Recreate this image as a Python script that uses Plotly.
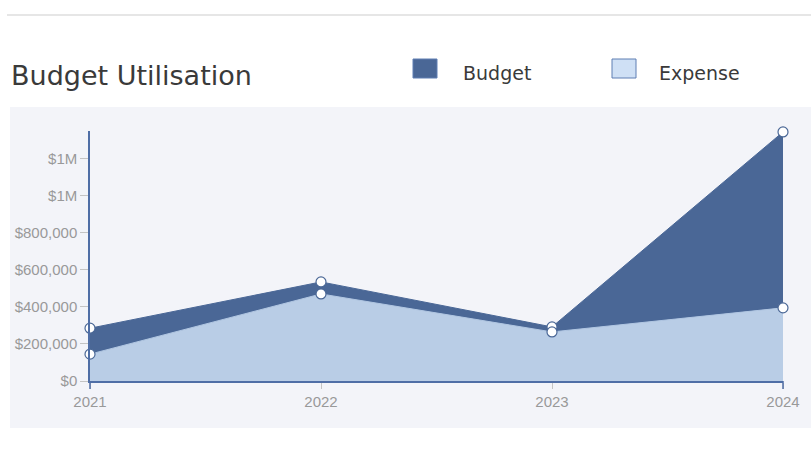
import plotly.graph_objects as go

years = [2021, 2022, 2023, 2024]
budget = [285000, 535000, 292000, 1345000]
expense = [145000, 470000, 265000, 395000]
ytick_vals = [0, 200000, 400000, 600000, 800000, 1000000, 1200000]
ytick_text = ["$0", "$200,000", "$400,000", "$600,000", "$800,000", "$1M", "$1M"]
xtick_text = ["2021", "2022", "2023", "2024"]

W, H = 811, 450
L, R, T, B = 90, 28, 131, 69
PW, PH = W - L - R, H - T - B

def pxp(xp, yp):
    return (xp - L) / PW, (H - B - yp) / PH

dark = "#4a6796"
light = "#b9cde6"
axis_col = "#4f6ea6"

fig = go.Figure()
fig.add_trace(go.Scatter(
    x=years, y=expense, mode="lines", fill="tozeroy",
    line=dict(color="#b0c6e2", width=1), fillcolor=light,
    name="Expense", showlegend=False, cliponaxis=False, hoverinfo="skip"))
fig.add_trace(go.Scatter(
    x=years, y=budget, mode="lines", fill="tonexty",
    line=dict(color=dark, width=1), fillcolor=dark,
    name="Budget", showlegend=False, cliponaxis=False, hoverinfo="skip"))
for vals in (budget, expense):
    fig.add_trace(go.Scatter(
        x=years, y=vals, mode="markers", showlegend=False, cliponaxis=False,
        hoverinfo="skip",
        marker=dict(symbol="circle", size=10, color="white",
                    line=dict(color=dark, width=1.2))))

def rect(x0, y0, x1, y1, **kw):
    a0, b0 = pxp(x0, y1)
    a1, b1 = pxp(x1, y0)
    return dict(type="rect", xref="paper", yref="paper", x0=a0, y0=b0, x1=a1, y1=b1, **kw)

def line(x0, y0, x1, y1, **kw):
    a0, b0 = pxp(x0, y0)
    a1, b1 = pxp(x1, y1)
    return dict(type="line", xref="paper", yref="paper", x0=a0, y0=b0, x1=a1, y1=b1, **kw)

shapes = [
    line(7, 15, 811, 15, line=dict(color="#e6e6e6", width=2), layer="below"),
    rect(10, 107, 811, 428, fillcolor="#f3f4f9", line=dict(width=0), layer="below"),
    rect(413, 59, 437, 78, fillcolor=dark, line=dict(color="#5f7fb3", width=1)),
    rect(612, 59, 636, 78, fillcolor="#cfe0f5", line=dict(color="#5f7fb3", width=1)),
    line(90, 381, 90, 389, line=dict(color=axis_col, width=1.5)),
    line(783, 381, 783, 389, line=dict(color=axis_col, width=1.5)),
]

annotations = []
tx, ty = pxp(9, 75)
annotations.append(dict(text="Budget Utilisation", x=tx, y=ty, xref="paper", yref="paper",
                        xanchor="left", yanchor="middle", showarrow=False,
                        font=dict(family="DejaVu Sans", size=27, color="#3a3a3a")))
bx, by = pxp(461, 73)
annotations.append(dict(text="Budget", x=bx, y=by, xref="paper", yref="paper",
                        xanchor="left", yanchor="middle", showarrow=False,
                        font=dict(family="DejaVu Sans", size=19, color="#3a3a3a")))
ex, ey = pxp(657, 73)
annotations.append(dict(text="Expense", x=ex, y=ey, xref="paper", yref="paper",
                        xanchor="left", yanchor="middle", showarrow=False,
                        font=dict(family="DejaVu Sans", size=19, color="#3a3a3a")))

tick_font = dict(family="Liberation Sans, Arial", size=15, color="#999999")

fig.update_layout(
    width=W, height=H, margin=dict(l=L, r=R, t=T, b=B),
    paper_bgcolor="white", plot_bgcolor="rgba(0,0,0,0)",
    shapes=shapes, annotations=annotations, showlegend=False,
    font=tick_font,
)
fig.update_xaxes(range=[2021, 2024], tickvals=years, ticktext=xtick_text,
                 showgrid=False, zeroline=False, showline=True, linecolor=axis_col,
                 linewidth=1.5, ticks="outside", ticklen=6, tickcolor="#c4c4c4",
                 tickfont=tick_font)
fig.update_yaxes(range=[0, 1350000], tickvals=ytick_vals, ticktext=ytick_text,
                 showgrid=False, zeroline=False, showline=True, linecolor=axis_col,
                 linewidth=1.5, ticks="outside", ticklen=8, tickcolor="#c4c4c4",
                 tickfont=tick_font)

fig.write_html("out.html")
